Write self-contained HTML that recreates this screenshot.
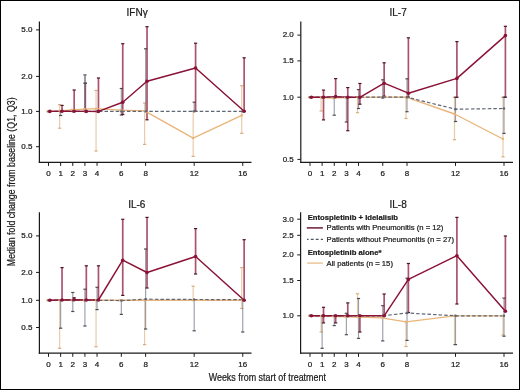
<!DOCTYPE html>
<html><head><meta charset="utf-8"><style>
html,body{margin:0;padding:0;background:#fff;}
body{width:520px;height:390px;overflow:hidden;}
svg{display:block;font-family:"Liberation Sans",sans-serif;fill:#1a1a1a;will-change:transform;}
text{fill:#1a1a1a;stroke:#1a1a1a;stroke-width:0.22px;}
</style></head><body>
<svg width="520" height="390" viewBox="0 0 520 390">
<rect x="0.5" y="0.5" width="519" height="389" fill="#fff" stroke="#000" stroke-width="1"/>
<line x1="39.40" y1="21.50" x2="39.40" y2="162.90" stroke="#1a1a1a" stroke-width="1.2" />
<line x1="38.80" y1="162.30" x2="251.50" y2="162.30" stroke="#1a1a1a" stroke-width="1.2" />
<line x1="36.00" y1="29.90" x2="39.40" y2="29.90" stroke="#1a1a1a" stroke-width="1" />
<text x="32.40" y="32.20" font-size="8" text-anchor="end" font-weight="normal" >5.0</text>
<line x1="36.00" y1="76.40" x2="39.40" y2="76.40" stroke="#1a1a1a" stroke-width="1" />
<text x="32.40" y="78.70" font-size="8" text-anchor="end" font-weight="normal" >2.0</text>
<line x1="36.00" y1="111.40" x2="39.40" y2="111.40" stroke="#1a1a1a" stroke-width="1" />
<text x="32.40" y="113.70" font-size="8" text-anchor="end" font-weight="normal" >1.0</text>
<line x1="36.00" y1="146.70" x2="39.40" y2="146.70" stroke="#1a1a1a" stroke-width="1" />
<text x="32.40" y="149.00" font-size="8" text-anchor="end" font-weight="normal" >0.5</text>
<line x1="48.50" y1="162.30" x2="48.50" y2="165.90" stroke="#1a1a1a" stroke-width="1" />
<text x="48.50" y="175.90" font-size="8" text-anchor="middle" font-weight="normal" >0</text>
<line x1="60.64" y1="162.30" x2="60.64" y2="165.90" stroke="#1a1a1a" stroke-width="1" />
<text x="60.64" y="175.90" font-size="8" text-anchor="middle" font-weight="normal" >1</text>
<line x1="72.78" y1="162.30" x2="72.78" y2="165.90" stroke="#1a1a1a" stroke-width="1" />
<text x="72.78" y="175.90" font-size="8" text-anchor="middle" font-weight="normal" >2</text>
<line x1="84.92" y1="162.30" x2="84.92" y2="165.90" stroke="#1a1a1a" stroke-width="1" />
<text x="84.92" y="175.90" font-size="8" text-anchor="middle" font-weight="normal" >3</text>
<line x1="97.06" y1="162.30" x2="97.06" y2="165.90" stroke="#1a1a1a" stroke-width="1" />
<text x="97.06" y="175.90" font-size="8" text-anchor="middle" font-weight="normal" >4</text>
<line x1="121.34" y1="162.30" x2="121.34" y2="165.90" stroke="#1a1a1a" stroke-width="1" />
<text x="121.34" y="175.90" font-size="8" text-anchor="middle" font-weight="normal" >6</text>
<line x1="145.62" y1="162.30" x2="145.62" y2="165.90" stroke="#1a1a1a" stroke-width="1" />
<text x="145.62" y="175.90" font-size="8" text-anchor="middle" font-weight="normal" >8</text>
<line x1="194.18" y1="162.30" x2="194.18" y2="165.90" stroke="#1a1a1a" stroke-width="1" />
<text x="194.18" y="175.90" font-size="8" text-anchor="middle" font-weight="normal" >12</text>
<line x1="242.74" y1="162.30" x2="242.74" y2="165.90" stroke="#1a1a1a" stroke-width="1" />
<text x="242.74" y="175.90" font-size="8" text-anchor="middle" font-weight="normal" >16</text>
<text x="137.10" y="15.60" font-size="10" text-anchor="middle" font-weight="normal" >IFNγ</text>
<g opacity="0.65">
<line x1="59.64" y1="104.60" x2="59.64" y2="128.20" stroke="#dcb07e" stroke-width="1.2" />
</g>
<line x1="58.04" y1="104.60" x2="61.24" y2="104.60" stroke="#d9ad7e" stroke-width="1.2" />
<line x1="58.04" y1="128.20" x2="61.24" y2="128.20" stroke="#d9ad7e" stroke-width="1.2" />
<g opacity="0.65">
<line x1="96.06" y1="90.50" x2="96.06" y2="151.00" stroke="#dcb07e" stroke-width="1.2" />
</g>
<line x1="94.46" y1="90.50" x2="97.66" y2="90.50" stroke="#d9ad7e" stroke-width="1.2" />
<line x1="94.46" y1="151.00" x2="97.66" y2="151.00" stroke="#d9ad7e" stroke-width="1.2" />
<g opacity="0.65">
<line x1="144.62" y1="103.00" x2="144.62" y2="144.40" stroke="#dcb07e" stroke-width="1.2" />
</g>
<line x1="143.02" y1="103.00" x2="146.22" y2="103.00" stroke="#d9ad7e" stroke-width="1.2" />
<line x1="143.02" y1="144.40" x2="146.22" y2="144.40" stroke="#d9ad7e" stroke-width="1.2" />
<g opacity="0.65">
<line x1="193.18" y1="111.20" x2="193.18" y2="156.40" stroke="#dcb07e" stroke-width="1.2" />
</g>
<line x1="191.58" y1="111.20" x2="194.78" y2="111.20" stroke="#d9ad7e" stroke-width="1.2" />
<line x1="191.58" y1="156.40" x2="194.78" y2="156.40" stroke="#d9ad7e" stroke-width="1.2" />
<g opacity="0.65">
<line x1="241.74" y1="85.80" x2="241.74" y2="133.30" stroke="#dcb07e" stroke-width="1.2" />
</g>
<line x1="240.14" y1="85.80" x2="243.34" y2="85.80" stroke="#d9ad7e" stroke-width="1.2" />
<line x1="240.14" y1="133.30" x2="243.34" y2="133.30" stroke="#d9ad7e" stroke-width="1.2" />
<g opacity="0.62">
<line x1="60.64" y1="111.40" x2="60.64" y2="115.50" stroke="#5e6575" stroke-width="1.15" />
</g>
<line x1="59.04" y1="111.40" x2="62.24" y2="111.40" stroke="#4a4e58" stroke-width="1.2" />
<line x1="59.04" y1="115.50" x2="62.24" y2="115.50" stroke="#4a4e58" stroke-width="1.2" />
<g opacity="0.62">
<line x1="84.92" y1="74.90" x2="84.92" y2="111.40" stroke="#5e6575" stroke-width="1.15" />
</g>
<line x1="83.32" y1="74.90" x2="86.52" y2="74.90" stroke="#4a4e58" stroke-width="1.2" />
<line x1="83.32" y1="111.40" x2="86.52" y2="111.40" stroke="#4a4e58" stroke-width="1.2" />
<g opacity="0.62">
<line x1="121.34" y1="88.50" x2="121.34" y2="115.00" stroke="#5e6575" stroke-width="1.15" />
</g>
<line x1="119.74" y1="88.50" x2="122.94" y2="88.50" stroke="#4a4e58" stroke-width="1.2" />
<line x1="119.74" y1="115.00" x2="122.94" y2="115.00" stroke="#4a4e58" stroke-width="1.2" />
<g opacity="0.62">
<line x1="145.62" y1="48.80" x2="145.62" y2="111.40" stroke="#5e6575" stroke-width="1.15" />
</g>
<line x1="144.02" y1="48.80" x2="147.22" y2="48.80" stroke="#4a4e58" stroke-width="1.2" />
<line x1="144.02" y1="111.40" x2="147.22" y2="111.40" stroke="#4a4e58" stroke-width="1.2" />
<g opacity="0.62">
<line x1="194.18" y1="102.20" x2="194.18" y2="111.40" stroke="#5e6575" stroke-width="1.15" />
</g>
<line x1="192.58" y1="102.20" x2="195.78" y2="102.20" stroke="#4a4e58" stroke-width="1.2" />
<line x1="192.58" y1="111.40" x2="195.78" y2="111.40" stroke="#4a4e58" stroke-width="1.2" />
<g opacity="0.72">
<line x1="62.04" y1="105.40" x2="62.04" y2="111.30" stroke="#8a1236" stroke-width="1.7" />
</g>
<line x1="60.44" y1="105.40" x2="63.64" y2="105.40" stroke="#4a1426" stroke-width="1.2" />
<line x1="60.44" y1="111.30" x2="63.64" y2="111.30" stroke="#4a1426" stroke-width="1.2" />
<g opacity="0.72">
<line x1="74.18" y1="90.00" x2="74.18" y2="111.30" stroke="#8a1236" stroke-width="1.7" />
</g>
<line x1="72.58" y1="90.00" x2="75.78" y2="90.00" stroke="#4a1426" stroke-width="1.2" />
<line x1="72.58" y1="111.30" x2="75.78" y2="111.30" stroke="#4a1426" stroke-width="1.2" />
<g opacity="0.72">
<line x1="85.32" y1="83.20" x2="85.32" y2="111.40" stroke="#8a1236" stroke-width="1.7" />
</g>
<line x1="83.72" y1="83.20" x2="86.92" y2="83.20" stroke="#4a1426" stroke-width="1.2" />
<line x1="83.72" y1="111.40" x2="86.92" y2="111.40" stroke="#4a1426" stroke-width="1.2" />
<g opacity="0.72">
<line x1="98.46" y1="78.00" x2="98.46" y2="111.40" stroke="#8a1236" stroke-width="1.7" />
</g>
<line x1="96.86" y1="78.00" x2="100.06" y2="78.00" stroke="#4a1426" stroke-width="1.2" />
<line x1="96.86" y1="111.40" x2="100.06" y2="111.40" stroke="#4a1426" stroke-width="1.2" />
<g opacity="0.72">
<line x1="122.74" y1="43.70" x2="122.74" y2="114.50" stroke="#8a1236" stroke-width="1.7" />
</g>
<line x1="121.14" y1="43.70" x2="124.34" y2="43.70" stroke="#4a1426" stroke-width="1.2" />
<line x1="121.14" y1="114.50" x2="124.34" y2="114.50" stroke="#4a1426" stroke-width="1.2" />
<g opacity="0.72">
<line x1="147.02" y1="26.70" x2="147.02" y2="119.80" stroke="#8a1236" stroke-width="1.7" />
</g>
<line x1="145.42" y1="26.70" x2="148.62" y2="26.70" stroke="#4a1426" stroke-width="1.2" />
<line x1="145.42" y1="119.80" x2="148.62" y2="119.80" stroke="#4a1426" stroke-width="1.2" />
<g opacity="0.72">
<line x1="195.58" y1="43.20" x2="195.58" y2="111.40" stroke="#8a1236" stroke-width="1.7" />
</g>
<line x1="193.98" y1="43.20" x2="197.18" y2="43.20" stroke="#4a1426" stroke-width="1.2" />
<line x1="193.98" y1="111.40" x2="197.18" y2="111.40" stroke="#4a1426" stroke-width="1.2" />
<g opacity="0.72">
<line x1="244.14" y1="57.80" x2="244.14" y2="111.30" stroke="#8a1236" stroke-width="1.7" />
</g>
<line x1="242.54" y1="57.80" x2="245.74" y2="57.80" stroke="#4a1426" stroke-width="1.2" />
<line x1="242.54" y1="111.30" x2="245.74" y2="111.30" stroke="#4a1426" stroke-width="1.2" />
<line x1="85.1" y1="75.5" x2="85.1" y2="111" stroke="#6b6f7c" stroke-width="1.3" opacity="0.75"/>
<line x1="83.5" y1="83.2" x2="86.7" y2="83.2" stroke="#4a4e58" stroke-width="1.2"/>
<polyline points="47.50,111.40 59.64,110.80 71.78,109.80 83.92,109.20 96.06,108.60 120.34,110.20 144.62,110.90 193.18,138.10 241.74,115.30" fill="none" stroke="#eab57a" stroke-width="1.35" stroke-linejoin="round" />
<polyline points="48.50,111.40 60.64,111.40 72.78,111.40 84.92,111.40 97.06,111.40 121.34,111.40 145.62,111.40 194.18,111.40 242.74,111.40" fill="none" stroke="#5e6575" stroke-width="1.2" stroke-linejoin="round" stroke-dasharray="3.5,2.1"/>
<polyline points="49.90,111.40 62.04,111.30 74.18,111.30 86.32,111.40 98.46,111.40 122.74,102.30 147.02,81.20 195.58,68.00 244.14,111.30" fill="none" stroke="#8a1236" stroke-width="1.45" stroke-linejoin="round" />
<circle cx="47.50" cy="111.40" r="1.2" fill="#eab57a"/>
<circle cx="59.64" cy="110.80" r="1.2" fill="#eab57a"/>
<circle cx="71.78" cy="109.80" r="1.2" fill="#eab57a"/>
<circle cx="83.92" cy="109.20" r="1.2" fill="#eab57a"/>
<circle cx="96.06" cy="108.60" r="1.2" fill="#eab57a"/>
<circle cx="120.34" cy="110.20" r="1.2" fill="#eab57a"/>
<circle cx="144.62" cy="110.90" r="1.2" fill="#eab57a"/>
<circle cx="193.18" cy="138.10" r="1.2" fill="#eab57a"/>
<circle cx="241.74" cy="115.30" r="1.2" fill="#eab57a"/>
<circle cx="48.50" cy="111.40" r="1.2" fill="#5e6575"/>
<circle cx="60.64" cy="111.40" r="1.2" fill="#5e6575"/>
<circle cx="72.78" cy="111.40" r="1.2" fill="#5e6575"/>
<circle cx="84.92" cy="111.40" r="1.2" fill="#5e6575"/>
<circle cx="97.06" cy="111.40" r="1.2" fill="#5e6575"/>
<circle cx="121.34" cy="111.40" r="1.2" fill="#5e6575"/>
<circle cx="145.62" cy="111.40" r="1.2" fill="#5e6575"/>
<circle cx="194.18" cy="111.40" r="1.2" fill="#5e6575"/>
<circle cx="242.74" cy="111.40" r="1.2" fill="#5e6575"/>
<circle cx="49.90" cy="111.40" r="1.8" fill="#8a1236"/>
<circle cx="62.04" cy="111.30" r="1.8" fill="#8a1236"/>
<circle cx="74.18" cy="111.30" r="1.8" fill="#8a1236"/>
<circle cx="86.32" cy="111.40" r="1.8" fill="#8a1236"/>
<circle cx="98.46" cy="111.40" r="1.8" fill="#8a1236"/>
<circle cx="122.74" cy="102.30" r="1.8" fill="#8a1236"/>
<circle cx="147.02" cy="81.20" r="1.8" fill="#8a1236"/>
<circle cx="195.58" cy="68.00" r="1.8" fill="#8a1236"/>
<circle cx="244.14" cy="111.30" r="1.8" fill="#8a1236"/>
<line x1="300.80" y1="21.50" x2="300.80" y2="162.90" stroke="#1a1a1a" stroke-width="1.2" />
<line x1="300.20" y1="162.30" x2="513.00" y2="162.30" stroke="#1a1a1a" stroke-width="1.2" />
<line x1="297.40" y1="35.10" x2="300.80" y2="35.10" stroke="#1a1a1a" stroke-width="1" />
<text x="293.80" y="37.40" font-size="8" text-anchor="end" font-weight="normal" >2.0</text>
<line x1="297.40" y1="60.90" x2="300.80" y2="60.90" stroke="#1a1a1a" stroke-width="1" />
<text x="293.80" y="63.20" font-size="8" text-anchor="end" font-weight="normal" >1.5</text>
<line x1="297.40" y1="97.20" x2="300.80" y2="97.20" stroke="#1a1a1a" stroke-width="1" />
<text x="293.80" y="99.50" font-size="8" text-anchor="end" font-weight="normal" >1.0</text>
<line x1="297.40" y1="159.40" x2="300.80" y2="159.40" stroke="#1a1a1a" stroke-width="1" />
<text x="293.80" y="161.70" font-size="8" text-anchor="end" font-weight="normal" >0.5</text>
<line x1="310.00" y1="162.30" x2="310.00" y2="165.90" stroke="#1a1a1a" stroke-width="1" />
<text x="310.00" y="175.90" font-size="8" text-anchor="middle" font-weight="normal" >0</text>
<line x1="322.12" y1="162.30" x2="322.12" y2="165.90" stroke="#1a1a1a" stroke-width="1" />
<text x="322.12" y="175.90" font-size="8" text-anchor="middle" font-weight="normal" >1</text>
<line x1="334.25" y1="162.30" x2="334.25" y2="165.90" stroke="#1a1a1a" stroke-width="1" />
<text x="334.25" y="175.90" font-size="8" text-anchor="middle" font-weight="normal" >2</text>
<line x1="346.38" y1="162.30" x2="346.38" y2="165.90" stroke="#1a1a1a" stroke-width="1" />
<text x="346.38" y="175.90" font-size="8" text-anchor="middle" font-weight="normal" >3</text>
<line x1="358.50" y1="162.30" x2="358.50" y2="165.90" stroke="#1a1a1a" stroke-width="1" />
<text x="358.50" y="175.90" font-size="8" text-anchor="middle" font-weight="normal" >4</text>
<line x1="382.75" y1="162.30" x2="382.75" y2="165.90" stroke="#1a1a1a" stroke-width="1" />
<text x="382.75" y="175.90" font-size="8" text-anchor="middle" font-weight="normal" >6</text>
<line x1="407.00" y1="162.30" x2="407.00" y2="165.90" stroke="#1a1a1a" stroke-width="1" />
<text x="407.00" y="175.90" font-size="8" text-anchor="middle" font-weight="normal" >8</text>
<line x1="455.50" y1="162.30" x2="455.50" y2="165.90" stroke="#1a1a1a" stroke-width="1" />
<text x="455.50" y="175.90" font-size="8" text-anchor="middle" font-weight="normal" >12</text>
<line x1="504.00" y1="162.30" x2="504.00" y2="165.90" stroke="#1a1a1a" stroke-width="1" />
<text x="504.00" y="175.90" font-size="8" text-anchor="middle" font-weight="normal" >16</text>
<text x="398.10" y="15.60" font-size="10" text-anchor="middle" font-weight="normal" >IL-7</text>
<g opacity="0.65">
<line x1="321.12" y1="97.20" x2="321.12" y2="111.00" stroke="#dcb07e" stroke-width="1.2" />
</g>
<line x1="319.52" y1="97.20" x2="322.73" y2="97.20" stroke="#d9ad7e" stroke-width="1.2" />
<line x1="319.52" y1="111.00" x2="322.73" y2="111.00" stroke="#d9ad7e" stroke-width="1.2" />
<g opacity="0.65">
<line x1="357.50" y1="97.20" x2="357.50" y2="112.70" stroke="#dcb07e" stroke-width="1.2" />
</g>
<line x1="355.90" y1="97.20" x2="359.10" y2="97.20" stroke="#d9ad7e" stroke-width="1.2" />
<line x1="355.90" y1="112.70" x2="359.10" y2="112.70" stroke="#d9ad7e" stroke-width="1.2" />
<g opacity="0.65">
<line x1="406.00" y1="97.20" x2="406.00" y2="118.50" stroke="#dcb07e" stroke-width="1.2" />
</g>
<line x1="404.40" y1="97.20" x2="407.60" y2="97.20" stroke="#d9ad7e" stroke-width="1.2" />
<line x1="404.40" y1="118.50" x2="407.60" y2="118.50" stroke="#d9ad7e" stroke-width="1.2" />
<g opacity="0.65">
<line x1="454.50" y1="97.20" x2="454.50" y2="139.70" stroke="#dcb07e" stroke-width="1.2" />
</g>
<line x1="452.90" y1="97.20" x2="456.10" y2="97.20" stroke="#d9ad7e" stroke-width="1.2" />
<line x1="452.90" y1="139.70" x2="456.10" y2="139.70" stroke="#d9ad7e" stroke-width="1.2" />
<g opacity="0.65">
<line x1="503.00" y1="97.20" x2="503.00" y2="156.80" stroke="#dcb07e" stroke-width="1.2" />
</g>
<line x1="501.40" y1="97.20" x2="504.60" y2="97.20" stroke="#d9ad7e" stroke-width="1.2" />
<line x1="501.40" y1="156.80" x2="504.60" y2="156.80" stroke="#d9ad7e" stroke-width="1.2" />
<g opacity="0.62">
<line x1="334.25" y1="97.20" x2="334.25" y2="115.20" stroke="#5e6575" stroke-width="1.15" />
</g>
<line x1="332.65" y1="97.20" x2="335.85" y2="97.20" stroke="#4a4e58" stroke-width="1.2" />
<line x1="332.65" y1="115.20" x2="335.85" y2="115.20" stroke="#4a4e58" stroke-width="1.2" />
<g opacity="0.62">
<line x1="346.38" y1="97.20" x2="346.38" y2="122.00" stroke="#5e6575" stroke-width="1.15" />
</g>
<line x1="344.77" y1="97.20" x2="347.98" y2="97.20" stroke="#4a4e58" stroke-width="1.2" />
<line x1="344.77" y1="122.00" x2="347.98" y2="122.00" stroke="#4a4e58" stroke-width="1.2" />
<g opacity="0.62">
<line x1="358.50" y1="89.60" x2="358.50" y2="108.50" stroke="#5e6575" stroke-width="1.15" />
</g>
<line x1="356.90" y1="89.60" x2="360.10" y2="89.60" stroke="#4a4e58" stroke-width="1.2" />
<line x1="356.90" y1="108.50" x2="360.10" y2="108.50" stroke="#4a4e58" stroke-width="1.2" />
<g opacity="0.62">
<line x1="382.75" y1="79.80" x2="382.75" y2="98.00" stroke="#5e6575" stroke-width="1.15" />
</g>
<line x1="381.15" y1="79.80" x2="384.35" y2="79.80" stroke="#4a4e58" stroke-width="1.2" />
<line x1="381.15" y1="98.00" x2="384.35" y2="98.00" stroke="#4a4e58" stroke-width="1.2" />
<g opacity="0.62">
<line x1="407.00" y1="78.80" x2="407.00" y2="111.70" stroke="#5e6575" stroke-width="1.15" />
</g>
<line x1="405.40" y1="78.80" x2="408.60" y2="78.80" stroke="#4a4e58" stroke-width="1.2" />
<line x1="405.40" y1="111.70" x2="408.60" y2="111.70" stroke="#4a4e58" stroke-width="1.2" />
<g opacity="0.62">
<line x1="455.50" y1="97.30" x2="455.50" y2="121.50" stroke="#5e6575" stroke-width="1.15" />
</g>
<line x1="453.90" y1="97.30" x2="457.10" y2="97.30" stroke="#4a4e58" stroke-width="1.2" />
<line x1="453.90" y1="121.50" x2="457.10" y2="121.50" stroke="#4a4e58" stroke-width="1.2" />
<g opacity="0.62">
<line x1="504.00" y1="97.20" x2="504.00" y2="133.40" stroke="#5e6575" stroke-width="1.15" />
</g>
<line x1="502.40" y1="97.20" x2="505.60" y2="97.20" stroke="#4a4e58" stroke-width="1.2" />
<line x1="502.40" y1="133.40" x2="505.60" y2="133.40" stroke="#4a4e58" stroke-width="1.2" />
<g opacity="0.72">
<line x1="323.52" y1="90.10" x2="323.52" y2="119.90" stroke="#8a1236" stroke-width="1.7" />
</g>
<line x1="321.92" y1="90.10" x2="325.12" y2="90.10" stroke="#4a1426" stroke-width="1.2" />
<line x1="321.92" y1="119.90" x2="325.12" y2="119.90" stroke="#4a1426" stroke-width="1.2" />
<g opacity="0.72">
<line x1="335.65" y1="78.60" x2="335.65" y2="97.00" stroke="#8a1236" stroke-width="1.7" />
</g>
<line x1="334.05" y1="78.60" x2="337.25" y2="78.60" stroke="#4a1426" stroke-width="1.2" />
<line x1="334.05" y1="97.00" x2="337.25" y2="97.00" stroke="#4a1426" stroke-width="1.2" />
<g opacity="0.72">
<line x1="347.77" y1="87.60" x2="347.77" y2="130.70" stroke="#8a1236" stroke-width="1.7" />
</g>
<line x1="346.17" y1="87.60" x2="349.38" y2="87.60" stroke="#4a1426" stroke-width="1.2" />
<line x1="346.17" y1="130.70" x2="349.38" y2="130.70" stroke="#4a1426" stroke-width="1.2" />
<g opacity="0.72">
<line x1="359.90" y1="83.50" x2="359.90" y2="104.20" stroke="#8a1236" stroke-width="1.7" />
</g>
<line x1="358.30" y1="83.50" x2="361.50" y2="83.50" stroke="#4a1426" stroke-width="1.2" />
<line x1="358.30" y1="104.20" x2="361.50" y2="104.20" stroke="#4a1426" stroke-width="1.2" />
<g opacity="0.72">
<line x1="384.15" y1="62.80" x2="384.15" y2="96.20" stroke="#8a1236" stroke-width="1.7" />
</g>
<line x1="382.55" y1="62.80" x2="385.75" y2="62.80" stroke="#4a1426" stroke-width="1.2" />
<line x1="382.55" y1="96.20" x2="385.75" y2="96.20" stroke="#4a1426" stroke-width="1.2" />
<g opacity="0.72">
<line x1="408.40" y1="37.80" x2="408.40" y2="97.20" stroke="#8a1236" stroke-width="1.7" />
</g>
<line x1="406.80" y1="37.80" x2="410.00" y2="37.80" stroke="#4a1426" stroke-width="1.2" />
<line x1="406.80" y1="97.20" x2="410.00" y2="97.20" stroke="#4a1426" stroke-width="1.2" />
<g opacity="0.72">
<line x1="456.90" y1="41.60" x2="456.90" y2="97.30" stroke="#8a1236" stroke-width="1.7" />
</g>
<line x1="455.30" y1="41.60" x2="458.50" y2="41.60" stroke="#4a1426" stroke-width="1.2" />
<line x1="455.30" y1="97.30" x2="458.50" y2="97.30" stroke="#4a1426" stroke-width="1.2" />
<g opacity="0.72">
<line x1="505.40" y1="26.30" x2="505.40" y2="97.20" stroke="#8a1236" stroke-width="1.7" />
</g>
<line x1="503.80" y1="26.30" x2="507.00" y2="26.30" stroke="#4a1426" stroke-width="1.2" />
<line x1="503.80" y1="97.20" x2="507.00" y2="97.20" stroke="#4a1426" stroke-width="1.2" />
<polyline points="309.00,97.20 321.12,97.50 333.25,98.20 345.38,97.60 357.50,97.40 381.75,97.20 406.00,97.20 454.50,114.00 503.00,139.00" fill="none" stroke="#eab57a" stroke-width="1.35" stroke-linejoin="round" />
<polyline points="310.00,97.20 322.12,97.20 334.25,97.20 346.38,97.20 358.50,97.20 382.75,97.20 407.00,97.20 455.50,109.20 504.00,108.50" fill="none" stroke="#5e6575" stroke-width="1.2" stroke-linejoin="round" stroke-dasharray="3.5,2.1"/>
<polyline points="311.40,97.20 323.52,97.30 335.65,96.60 347.77,97.30 359.90,97.30 384.15,83.20 408.40,93.20 456.90,78.40 505.40,35.60" fill="none" stroke="#8a1236" stroke-width="1.45" stroke-linejoin="round" />
<circle cx="309.00" cy="97.20" r="1.2" fill="#eab57a"/>
<circle cx="321.12" cy="97.50" r="1.2" fill="#eab57a"/>
<circle cx="333.25" cy="98.20" r="1.2" fill="#eab57a"/>
<circle cx="345.38" cy="97.60" r="1.2" fill="#eab57a"/>
<circle cx="357.50" cy="97.40" r="1.2" fill="#eab57a"/>
<circle cx="381.75" cy="97.20" r="1.2" fill="#eab57a"/>
<circle cx="406.00" cy="97.20" r="1.2" fill="#eab57a"/>
<circle cx="454.50" cy="114.00" r="1.2" fill="#eab57a"/>
<circle cx="503.00" cy="139.00" r="1.2" fill="#eab57a"/>
<circle cx="310.00" cy="97.20" r="1.2" fill="#5e6575"/>
<circle cx="322.12" cy="97.20" r="1.2" fill="#5e6575"/>
<circle cx="334.25" cy="97.20" r="1.2" fill="#5e6575"/>
<circle cx="346.38" cy="97.20" r="1.2" fill="#5e6575"/>
<circle cx="358.50" cy="97.20" r="1.2" fill="#5e6575"/>
<circle cx="382.75" cy="97.20" r="1.2" fill="#5e6575"/>
<circle cx="407.00" cy="97.20" r="1.2" fill="#5e6575"/>
<circle cx="455.50" cy="109.20" r="1.2" fill="#5e6575"/>
<circle cx="504.00" cy="108.50" r="1.2" fill="#5e6575"/>
<circle cx="311.40" cy="97.20" r="1.8" fill="#8a1236"/>
<circle cx="323.52" cy="97.30" r="1.8" fill="#8a1236"/>
<circle cx="335.65" cy="96.60" r="1.8" fill="#8a1236"/>
<circle cx="347.77" cy="97.30" r="1.8" fill="#8a1236"/>
<circle cx="359.90" cy="97.30" r="1.8" fill="#8a1236"/>
<circle cx="384.15" cy="83.20" r="1.8" fill="#8a1236"/>
<circle cx="408.40" cy="93.20" r="1.8" fill="#8a1236"/>
<circle cx="456.90" cy="78.40" r="1.8" fill="#8a1236"/>
<circle cx="505.40" cy="35.60" r="1.8" fill="#8a1236"/>
<line x1="39.40" y1="212.30" x2="39.40" y2="353.80" stroke="#1a1a1a" stroke-width="1.2" />
<line x1="38.80" y1="353.20" x2="251.50" y2="353.20" stroke="#1a1a1a" stroke-width="1.2" />
<line x1="36.00" y1="235.90" x2="39.40" y2="235.90" stroke="#1a1a1a" stroke-width="1" />
<text x="32.40" y="238.20" font-size="8" text-anchor="end" font-weight="normal" >5.0</text>
<line x1="36.00" y1="272.40" x2="39.40" y2="272.40" stroke="#1a1a1a" stroke-width="1" />
<text x="32.40" y="274.70" font-size="8" text-anchor="end" font-weight="normal" >2.0</text>
<line x1="36.00" y1="300.30" x2="39.40" y2="300.30" stroke="#1a1a1a" stroke-width="1" />
<text x="32.40" y="302.60" font-size="8" text-anchor="end" font-weight="normal" >1.0</text>
<line x1="36.00" y1="327.50" x2="39.40" y2="327.50" stroke="#1a1a1a" stroke-width="1" />
<text x="32.40" y="329.80" font-size="8" text-anchor="end" font-weight="normal" >0.5</text>
<line x1="48.50" y1="353.20" x2="48.50" y2="356.80" stroke="#1a1a1a" stroke-width="1" />
<text x="48.50" y="366.80" font-size="8" text-anchor="middle" font-weight="normal" >0</text>
<line x1="60.64" y1="353.20" x2="60.64" y2="356.80" stroke="#1a1a1a" stroke-width="1" />
<text x="60.64" y="366.80" font-size="8" text-anchor="middle" font-weight="normal" >1</text>
<line x1="72.78" y1="353.20" x2="72.78" y2="356.80" stroke="#1a1a1a" stroke-width="1" />
<text x="72.78" y="366.80" font-size="8" text-anchor="middle" font-weight="normal" >2</text>
<line x1="84.92" y1="353.20" x2="84.92" y2="356.80" stroke="#1a1a1a" stroke-width="1" />
<text x="84.92" y="366.80" font-size="8" text-anchor="middle" font-weight="normal" >3</text>
<line x1="97.06" y1="353.20" x2="97.06" y2="356.80" stroke="#1a1a1a" stroke-width="1" />
<text x="97.06" y="366.80" font-size="8" text-anchor="middle" font-weight="normal" >4</text>
<line x1="121.34" y1="353.20" x2="121.34" y2="356.80" stroke="#1a1a1a" stroke-width="1" />
<text x="121.34" y="366.80" font-size="8" text-anchor="middle" font-weight="normal" >6</text>
<line x1="145.62" y1="353.20" x2="145.62" y2="356.80" stroke="#1a1a1a" stroke-width="1" />
<text x="145.62" y="366.80" font-size="8" text-anchor="middle" font-weight="normal" >8</text>
<line x1="194.18" y1="353.20" x2="194.18" y2="356.80" stroke="#1a1a1a" stroke-width="1" />
<text x="194.18" y="366.80" font-size="8" text-anchor="middle" font-weight="normal" >12</text>
<line x1="242.74" y1="353.20" x2="242.74" y2="356.80" stroke="#1a1a1a" stroke-width="1" />
<text x="242.74" y="366.80" font-size="8" text-anchor="middle" font-weight="normal" >16</text>
<text x="136.80" y="207.70" font-size="10" text-anchor="middle" font-weight="normal" >IL-6</text>
<g opacity="0.65">
<line x1="59.64" y1="300.20" x2="59.64" y2="348.30" stroke="#dcb07e" stroke-width="1.2" />
</g>
<line x1="58.04" y1="300.20" x2="61.24" y2="300.20" stroke="#d9ad7e" stroke-width="1.2" />
<line x1="58.04" y1="348.30" x2="61.24" y2="348.30" stroke="#d9ad7e" stroke-width="1.2" />
<g opacity="0.65">
<line x1="96.06" y1="300.20" x2="96.06" y2="346.80" stroke="#dcb07e" stroke-width="1.2" />
</g>
<line x1="94.46" y1="300.20" x2="97.66" y2="300.20" stroke="#d9ad7e" stroke-width="1.2" />
<line x1="94.46" y1="346.80" x2="97.66" y2="346.80" stroke="#d9ad7e" stroke-width="1.2" />
<g opacity="0.65">
<line x1="144.62" y1="300.20" x2="144.62" y2="344.60" stroke="#dcb07e" stroke-width="1.2" />
</g>
<line x1="143.02" y1="300.20" x2="146.22" y2="300.20" stroke="#d9ad7e" stroke-width="1.2" />
<line x1="143.02" y1="344.60" x2="146.22" y2="344.60" stroke="#d9ad7e" stroke-width="1.2" />
<g opacity="0.65">
<line x1="193.18" y1="286.20" x2="193.18" y2="300.20" stroke="#dcb07e" stroke-width="1.2" />
</g>
<line x1="191.58" y1="286.20" x2="194.78" y2="286.20" stroke="#d9ad7e" stroke-width="1.2" />
<line x1="191.58" y1="300.20" x2="194.78" y2="300.20" stroke="#d9ad7e" stroke-width="1.2" />
<g opacity="0.65">
<line x1="241.74" y1="267.60" x2="241.74" y2="308.50" stroke="#dcb07e" stroke-width="1.2" />
</g>
<line x1="240.14" y1="267.60" x2="243.34" y2="267.60" stroke="#d9ad7e" stroke-width="1.2" />
<line x1="240.14" y1="308.50" x2="243.34" y2="308.50" stroke="#d9ad7e" stroke-width="1.2" />
<g opacity="0.62">
<line x1="60.64" y1="300.20" x2="60.64" y2="328.20" stroke="#5e6575" stroke-width="1.15" />
</g>
<line x1="59.04" y1="300.20" x2="62.24" y2="300.20" stroke="#4a4e58" stroke-width="1.2" />
<line x1="59.04" y1="328.20" x2="62.24" y2="328.20" stroke="#4a4e58" stroke-width="1.2" />
<g opacity="0.62">
<line x1="72.78" y1="292.50" x2="72.78" y2="311.50" stroke="#5e6575" stroke-width="1.15" />
</g>
<line x1="71.18" y1="292.50" x2="74.38" y2="292.50" stroke="#4a4e58" stroke-width="1.2" />
<line x1="71.18" y1="311.50" x2="74.38" y2="311.50" stroke="#4a4e58" stroke-width="1.2" />
<g opacity="0.62">
<line x1="84.92" y1="289.20" x2="84.92" y2="326.00" stroke="#5e6575" stroke-width="1.15" />
</g>
<line x1="83.32" y1="289.20" x2="86.52" y2="289.20" stroke="#4a4e58" stroke-width="1.2" />
<line x1="83.32" y1="326.00" x2="86.52" y2="326.00" stroke="#4a4e58" stroke-width="1.2" />
<g opacity="0.62">
<line x1="97.06" y1="287.30" x2="97.06" y2="309.60" stroke="#5e6575" stroke-width="1.15" />
</g>
<line x1="95.46" y1="287.30" x2="98.66" y2="287.30" stroke="#4a4e58" stroke-width="1.2" />
<line x1="95.46" y1="309.60" x2="98.66" y2="309.60" stroke="#4a4e58" stroke-width="1.2" />
<g opacity="0.62">
<line x1="121.34" y1="300.30" x2="121.34" y2="314.40" stroke="#5e6575" stroke-width="1.15" />
</g>
<line x1="119.74" y1="300.30" x2="122.94" y2="300.30" stroke="#4a4e58" stroke-width="1.2" />
<line x1="119.74" y1="314.40" x2="122.94" y2="314.40" stroke="#4a4e58" stroke-width="1.2" />
<g opacity="0.62">
<line x1="145.62" y1="249.00" x2="145.62" y2="329.00" stroke="#5e6575" stroke-width="1.15" />
</g>
<line x1="144.02" y1="249.00" x2="147.22" y2="249.00" stroke="#4a4e58" stroke-width="1.2" />
<line x1="144.02" y1="329.00" x2="147.22" y2="329.00" stroke="#4a4e58" stroke-width="1.2" />
<g opacity="0.62">
<line x1="194.18" y1="300.00" x2="194.18" y2="330.80" stroke="#5e6575" stroke-width="1.15" />
</g>
<line x1="192.58" y1="300.00" x2="195.78" y2="300.00" stroke="#4a4e58" stroke-width="1.2" />
<line x1="192.58" y1="330.80" x2="195.78" y2="330.80" stroke="#4a4e58" stroke-width="1.2" />
<g opacity="0.62">
<line x1="242.74" y1="299.60" x2="242.74" y2="332.00" stroke="#5e6575" stroke-width="1.15" />
</g>
<line x1="241.14" y1="299.60" x2="244.34" y2="299.60" stroke="#4a4e58" stroke-width="1.2" />
<line x1="241.14" y1="332.00" x2="244.34" y2="332.00" stroke="#4a4e58" stroke-width="1.2" />
<g opacity="0.72">
<line x1="62.04" y1="267.60" x2="62.04" y2="300.00" stroke="#8a1236" stroke-width="1.7" />
</g>
<line x1="60.44" y1="267.60" x2="63.64" y2="267.60" stroke="#4a1426" stroke-width="1.2" />
<line x1="60.44" y1="300.00" x2="63.64" y2="300.00" stroke="#4a1426" stroke-width="1.2" />
<g opacity="0.72">
<line x1="74.18" y1="297.80" x2="74.18" y2="300.00" stroke="#8a1236" stroke-width="1.7" />
</g>
<line x1="72.58" y1="297.80" x2="75.78" y2="297.80" stroke="#4a1426" stroke-width="1.2" />
<line x1="72.58" y1="300.00" x2="75.78" y2="300.00" stroke="#4a1426" stroke-width="1.2" />
<g opacity="0.72">
<line x1="86.32" y1="265.80" x2="86.32" y2="300.00" stroke="#8a1236" stroke-width="1.7" />
</g>
<line x1="84.72" y1="265.80" x2="87.92" y2="265.80" stroke="#4a1426" stroke-width="1.2" />
<line x1="84.72" y1="300.00" x2="87.92" y2="300.00" stroke="#4a1426" stroke-width="1.2" />
<g opacity="0.72">
<line x1="98.46" y1="265.80" x2="98.46" y2="300.00" stroke="#8a1236" stroke-width="1.7" />
</g>
<line x1="96.86" y1="265.80" x2="100.06" y2="265.80" stroke="#4a1426" stroke-width="1.2" />
<line x1="96.86" y1="300.00" x2="100.06" y2="300.00" stroke="#4a1426" stroke-width="1.2" />
<g opacity="0.72">
<line x1="122.74" y1="219.30" x2="122.74" y2="295.40" stroke="#8a1236" stroke-width="1.7" />
</g>
<line x1="121.14" y1="219.30" x2="124.34" y2="219.30" stroke="#4a1426" stroke-width="1.2" />
<line x1="121.14" y1="295.40" x2="124.34" y2="295.40" stroke="#4a1426" stroke-width="1.2" />
<g opacity="0.72">
<line x1="147.02" y1="217.40" x2="147.02" y2="288.00" stroke="#8a1236" stroke-width="1.7" />
</g>
<line x1="145.42" y1="217.40" x2="148.62" y2="217.40" stroke="#4a1426" stroke-width="1.2" />
<line x1="145.42" y1="288.00" x2="148.62" y2="288.00" stroke="#4a1426" stroke-width="1.2" />
<g opacity="0.72">
<line x1="195.58" y1="228.60" x2="195.58" y2="274.00" stroke="#8a1236" stroke-width="1.7" />
</g>
<line x1="193.98" y1="228.60" x2="197.18" y2="228.60" stroke="#4a1426" stroke-width="1.2" />
<line x1="193.98" y1="274.00" x2="197.18" y2="274.00" stroke="#4a1426" stroke-width="1.2" />
<g opacity="0.72">
<line x1="244.14" y1="239.70" x2="244.14" y2="300.30" stroke="#8a1236" stroke-width="1.7" />
</g>
<line x1="242.54" y1="239.70" x2="245.74" y2="239.70" stroke="#4a1426" stroke-width="1.2" />
<line x1="242.54" y1="300.30" x2="245.74" y2="300.30" stroke="#4a1426" stroke-width="1.2" />
<polyline points="47.50,300.20 59.64,300.20 71.78,300.20 83.92,300.20 96.06,300.20 120.34,300.20 144.62,300.20 193.18,300.20 241.74,300.20" fill="none" stroke="#eab57a" stroke-width="1.35" stroke-linejoin="round" />
<polyline points="48.50,300.20 60.64,300.20 72.78,300.20 84.92,300.20 97.06,300.20 121.34,300.60 145.62,299.20 194.18,299.50 242.74,299.60" fill="none" stroke="#5e6575" stroke-width="1.2" stroke-linejoin="round" stroke-dasharray="3.5,2.1"/>
<polyline points="49.90,300.20 62.04,300.00 74.18,299.80 86.32,300.00 98.46,300.00 122.74,260.20 147.02,272.50 195.58,256.50 244.14,300.30" fill="none" stroke="#8a1236" stroke-width="1.45" stroke-linejoin="round" />
<circle cx="47.50" cy="300.20" r="1.2" fill="#eab57a"/>
<circle cx="59.64" cy="300.20" r="1.2" fill="#eab57a"/>
<circle cx="71.78" cy="300.20" r="1.2" fill="#eab57a"/>
<circle cx="83.92" cy="300.20" r="1.2" fill="#eab57a"/>
<circle cx="96.06" cy="300.20" r="1.2" fill="#eab57a"/>
<circle cx="120.34" cy="300.20" r="1.2" fill="#eab57a"/>
<circle cx="144.62" cy="300.20" r="1.2" fill="#eab57a"/>
<circle cx="193.18" cy="300.20" r="1.2" fill="#eab57a"/>
<circle cx="241.74" cy="300.20" r="1.2" fill="#eab57a"/>
<circle cx="48.50" cy="300.20" r="1.2" fill="#5e6575"/>
<circle cx="60.64" cy="300.20" r="1.2" fill="#5e6575"/>
<circle cx="72.78" cy="300.20" r="1.2" fill="#5e6575"/>
<circle cx="84.92" cy="300.20" r="1.2" fill="#5e6575"/>
<circle cx="97.06" cy="300.20" r="1.2" fill="#5e6575"/>
<circle cx="121.34" cy="300.60" r="1.2" fill="#5e6575"/>
<circle cx="145.62" cy="299.20" r="1.2" fill="#5e6575"/>
<circle cx="194.18" cy="299.50" r="1.2" fill="#5e6575"/>
<circle cx="242.74" cy="299.60" r="1.2" fill="#5e6575"/>
<circle cx="49.90" cy="300.20" r="1.8" fill="#8a1236"/>
<circle cx="62.04" cy="300.00" r="1.8" fill="#8a1236"/>
<circle cx="74.18" cy="299.80" r="1.8" fill="#8a1236"/>
<circle cx="86.32" cy="300.00" r="1.8" fill="#8a1236"/>
<circle cx="98.46" cy="300.00" r="1.8" fill="#8a1236"/>
<circle cx="122.74" cy="260.20" r="1.8" fill="#8a1236"/>
<circle cx="147.02" cy="272.50" r="1.8" fill="#8a1236"/>
<circle cx="195.58" cy="256.50" r="1.8" fill="#8a1236"/>
<circle cx="244.14" cy="300.30" r="1.8" fill="#8a1236"/>
<line x1="300.60" y1="212.30" x2="300.60" y2="353.80" stroke="#1a1a1a" stroke-width="1.2" />
<line x1="300.00" y1="353.20" x2="513.00" y2="353.20" stroke="#1a1a1a" stroke-width="1.2" />
<line x1="297.20" y1="219.20" x2="300.60" y2="219.20" stroke="#1a1a1a" stroke-width="1" />
<text x="293.60" y="221.50" font-size="8" text-anchor="end" font-weight="normal" >3.0</text>
<line x1="297.20" y1="235.30" x2="300.60" y2="235.30" stroke="#1a1a1a" stroke-width="1" />
<text x="293.60" y="237.60" font-size="8" text-anchor="end" font-weight="normal" >2.5</text>
<line x1="297.20" y1="254.90" x2="300.60" y2="254.90" stroke="#1a1a1a" stroke-width="1" />
<text x="293.60" y="257.20" font-size="8" text-anchor="end" font-weight="normal" >2.0</text>
<line x1="297.20" y1="280.50" x2="300.60" y2="280.50" stroke="#1a1a1a" stroke-width="1" />
<text x="293.60" y="282.80" font-size="8" text-anchor="end" font-weight="normal" >1.5</text>
<line x1="297.20" y1="315.80" x2="300.60" y2="315.80" stroke="#1a1a1a" stroke-width="1" />
<text x="293.60" y="318.10" font-size="8" text-anchor="end" font-weight="normal" >1.0</text>
<line x1="310.00" y1="353.20" x2="310.00" y2="356.80" stroke="#1a1a1a" stroke-width="1" />
<text x="310.00" y="366.80" font-size="8" text-anchor="middle" font-weight="normal" >0</text>
<line x1="322.12" y1="353.20" x2="322.12" y2="356.80" stroke="#1a1a1a" stroke-width="1" />
<text x="322.12" y="366.80" font-size="8" text-anchor="middle" font-weight="normal" >1</text>
<line x1="334.25" y1="353.20" x2="334.25" y2="356.80" stroke="#1a1a1a" stroke-width="1" />
<text x="334.25" y="366.80" font-size="8" text-anchor="middle" font-weight="normal" >2</text>
<line x1="346.38" y1="353.20" x2="346.38" y2="356.80" stroke="#1a1a1a" stroke-width="1" />
<text x="346.38" y="366.80" font-size="8" text-anchor="middle" font-weight="normal" >3</text>
<line x1="358.50" y1="353.20" x2="358.50" y2="356.80" stroke="#1a1a1a" stroke-width="1" />
<text x="358.50" y="366.80" font-size="8" text-anchor="middle" font-weight="normal" >4</text>
<line x1="382.75" y1="353.20" x2="382.75" y2="356.80" stroke="#1a1a1a" stroke-width="1" />
<text x="382.75" y="366.80" font-size="8" text-anchor="middle" font-weight="normal" >6</text>
<line x1="407.00" y1="353.20" x2="407.00" y2="356.80" stroke="#1a1a1a" stroke-width="1" />
<text x="407.00" y="366.80" font-size="8" text-anchor="middle" font-weight="normal" >8</text>
<line x1="455.50" y1="353.20" x2="455.50" y2="356.80" stroke="#1a1a1a" stroke-width="1" />
<text x="455.50" y="366.80" font-size="8" text-anchor="middle" font-weight="normal" >12</text>
<line x1="504.00" y1="353.20" x2="504.00" y2="356.80" stroke="#1a1a1a" stroke-width="1" />
<text x="504.00" y="366.80" font-size="8" text-anchor="middle" font-weight="normal" >16</text>
<text x="398.10" y="207.50" font-size="10" text-anchor="middle" font-weight="normal" >IL-8</text>
<g opacity="0.65">
<line x1="321.12" y1="316.00" x2="321.12" y2="332.00" stroke="#dcb07e" stroke-width="1.2" />
</g>
<line x1="319.52" y1="316.00" x2="322.73" y2="316.00" stroke="#d9ad7e" stroke-width="1.2" />
<line x1="319.52" y1="332.00" x2="322.73" y2="332.00" stroke="#d9ad7e" stroke-width="1.2" />
<g opacity="0.65">
<line x1="357.50" y1="293.80" x2="357.50" y2="317.00" stroke="#dcb07e" stroke-width="1.2" />
</g>
<line x1="355.90" y1="293.80" x2="359.10" y2="293.80" stroke="#d9ad7e" stroke-width="1.2" />
<line x1="355.90" y1="317.00" x2="359.10" y2="317.00" stroke="#d9ad7e" stroke-width="1.2" />
<g opacity="0.65">
<line x1="406.00" y1="321.80" x2="406.00" y2="346.50" stroke="#dcb07e" stroke-width="1.2" />
</g>
<line x1="404.40" y1="321.80" x2="407.60" y2="321.80" stroke="#d9ad7e" stroke-width="1.2" />
<line x1="404.40" y1="346.50" x2="407.60" y2="346.50" stroke="#d9ad7e" stroke-width="1.2" />
<g opacity="0.65">
<line x1="454.50" y1="315.80" x2="454.50" y2="344.60" stroke="#dcb07e" stroke-width="1.2" />
</g>
<line x1="452.90" y1="315.80" x2="456.10" y2="315.80" stroke="#d9ad7e" stroke-width="1.2" />
<line x1="452.90" y1="344.60" x2="456.10" y2="344.60" stroke="#d9ad7e" stroke-width="1.2" />
<g opacity="0.65">
<line x1="503.00" y1="315.80" x2="503.00" y2="335.00" stroke="#dcb07e" stroke-width="1.2" />
</g>
<line x1="501.40" y1="315.80" x2="504.60" y2="315.80" stroke="#d9ad7e" stroke-width="1.2" />
<line x1="501.40" y1="335.00" x2="504.60" y2="335.00" stroke="#d9ad7e" stroke-width="1.2" />
<g opacity="0.62">
<line x1="322.12" y1="315.80" x2="322.12" y2="348.30" stroke="#5e6575" stroke-width="1.15" />
</g>
<line x1="320.52" y1="315.80" x2="323.73" y2="315.80" stroke="#4a4e58" stroke-width="1.2" />
<line x1="320.52" y1="348.30" x2="323.73" y2="348.30" stroke="#4a4e58" stroke-width="1.2" />
<g opacity="0.62">
<line x1="334.25" y1="315.80" x2="334.25" y2="325.60" stroke="#5e6575" stroke-width="1.15" />
</g>
<line x1="332.65" y1="315.80" x2="335.85" y2="315.80" stroke="#4a4e58" stroke-width="1.2" />
<line x1="332.65" y1="325.60" x2="335.85" y2="325.60" stroke="#4a4e58" stroke-width="1.2" />
<g opacity="0.62">
<line x1="346.38" y1="313.30" x2="346.38" y2="334.70" stroke="#5e6575" stroke-width="1.15" />
</g>
<line x1="344.77" y1="313.30" x2="347.98" y2="313.30" stroke="#4a4e58" stroke-width="1.2" />
<line x1="344.77" y1="334.70" x2="347.98" y2="334.70" stroke="#4a4e58" stroke-width="1.2" />
<g opacity="0.62">
<line x1="358.50" y1="298.50" x2="358.50" y2="338.40" stroke="#5e6575" stroke-width="1.15" />
</g>
<line x1="356.90" y1="298.50" x2="360.10" y2="298.50" stroke="#4a4e58" stroke-width="1.2" />
<line x1="356.90" y1="338.40" x2="360.10" y2="338.40" stroke="#4a4e58" stroke-width="1.2" />
<g opacity="0.62">
<line x1="382.75" y1="305.70" x2="382.75" y2="340.90" stroke="#5e6575" stroke-width="1.15" />
</g>
<line x1="381.15" y1="305.70" x2="384.35" y2="305.70" stroke="#4a4e58" stroke-width="1.2" />
<line x1="381.15" y1="340.90" x2="384.35" y2="340.90" stroke="#4a4e58" stroke-width="1.2" />
<g opacity="0.62">
<line x1="407.00" y1="278.20" x2="407.00" y2="340.40" stroke="#5e6575" stroke-width="1.15" />
</g>
<line x1="405.40" y1="278.20" x2="408.60" y2="278.20" stroke="#4a4e58" stroke-width="1.2" />
<line x1="405.40" y1="340.40" x2="408.60" y2="340.40" stroke="#4a4e58" stroke-width="1.2" />
<g opacity="0.62">
<line x1="455.50" y1="315.80" x2="455.50" y2="344.60" stroke="#5e6575" stroke-width="1.15" />
</g>
<line x1="453.90" y1="315.80" x2="457.10" y2="315.80" stroke="#4a4e58" stroke-width="1.2" />
<line x1="453.90" y1="344.60" x2="457.10" y2="344.60" stroke="#4a4e58" stroke-width="1.2" />
<g opacity="0.62">
<line x1="504.00" y1="298.10" x2="504.00" y2="336.20" stroke="#5e6575" stroke-width="1.15" />
</g>
<line x1="502.40" y1="298.10" x2="505.60" y2="298.10" stroke="#4a4e58" stroke-width="1.2" />
<line x1="502.40" y1="336.20" x2="505.60" y2="336.20" stroke="#4a4e58" stroke-width="1.2" />
<g opacity="0.72">
<line x1="323.52" y1="307.30" x2="323.52" y2="322.90" stroke="#8a1236" stroke-width="1.7" />
</g>
<line x1="321.92" y1="307.30" x2="325.12" y2="307.30" stroke="#4a1426" stroke-width="1.2" />
<line x1="321.92" y1="322.90" x2="325.12" y2="322.90" stroke="#4a1426" stroke-width="1.2" />
<g opacity="0.72">
<line x1="335.65" y1="315.80" x2="335.65" y2="322.90" stroke="#8a1236" stroke-width="1.7" />
</g>
<line x1="334.05" y1="315.80" x2="337.25" y2="315.80" stroke="#4a1426" stroke-width="1.2" />
<line x1="334.05" y1="322.90" x2="337.25" y2="322.90" stroke="#4a1426" stroke-width="1.2" />
<g opacity="0.72">
<line x1="347.77" y1="302.90" x2="347.77" y2="315.80" stroke="#8a1236" stroke-width="1.7" />
</g>
<line x1="346.17" y1="302.90" x2="349.38" y2="302.90" stroke="#4a1426" stroke-width="1.2" />
<line x1="346.17" y1="315.80" x2="349.38" y2="315.80" stroke="#4a1426" stroke-width="1.2" />
<g opacity="0.72">
<line x1="359.90" y1="315.80" x2="359.90" y2="332.00" stroke="#8a1236" stroke-width="1.7" />
</g>
<line x1="358.30" y1="315.80" x2="361.50" y2="315.80" stroke="#4a1426" stroke-width="1.2" />
<line x1="358.30" y1="332.00" x2="361.50" y2="332.00" stroke="#4a1426" stroke-width="1.2" />
<g opacity="0.72">
<line x1="384.15" y1="294.00" x2="384.15" y2="315.80" stroke="#8a1236" stroke-width="1.7" />
</g>
<line x1="382.55" y1="294.00" x2="385.75" y2="294.00" stroke="#4a1426" stroke-width="1.2" />
<line x1="382.55" y1="315.80" x2="385.75" y2="315.80" stroke="#4a1426" stroke-width="1.2" />
<g opacity="0.72">
<line x1="408.40" y1="263.50" x2="408.40" y2="312.50" stroke="#8a1236" stroke-width="1.7" />
</g>
<line x1="406.80" y1="263.50" x2="410.00" y2="263.50" stroke="#4a1426" stroke-width="1.2" />
<line x1="406.80" y1="312.50" x2="410.00" y2="312.50" stroke="#4a1426" stroke-width="1.2" />
<g opacity="0.72">
<line x1="456.90" y1="217.40" x2="456.90" y2="304.00" stroke="#8a1236" stroke-width="1.7" />
</g>
<line x1="455.30" y1="217.40" x2="458.50" y2="217.40" stroke="#4a1426" stroke-width="1.2" />
<line x1="455.30" y1="304.00" x2="458.50" y2="304.00" stroke="#4a1426" stroke-width="1.2" />
<g opacity="0.72">
<line x1="505.40" y1="236.00" x2="505.40" y2="311.30" stroke="#8a1236" stroke-width="1.7" />
</g>
<line x1="503.80" y1="236.00" x2="507.00" y2="236.00" stroke="#4a1426" stroke-width="1.2" />
<line x1="503.80" y1="311.30" x2="507.00" y2="311.30" stroke="#4a1426" stroke-width="1.2" />
<polyline points="309.00,315.80 321.12,316.00 333.25,316.40 345.38,316.80 357.50,317.00 381.75,317.80 406.00,321.80 454.50,315.80 503.00,315.80" fill="none" stroke="#eab57a" stroke-width="1.35" stroke-linejoin="round" />
<polyline points="310.00,315.80 322.12,315.80 334.25,315.80 346.38,315.80 358.50,315.80 382.75,315.80 407.00,313.00 455.50,315.80 504.00,315.80" fill="none" stroke="#5e6575" stroke-width="1.2" stroke-linejoin="round" stroke-dasharray="3.5,2.1"/>
<polyline points="311.40,315.80 323.52,315.80 335.65,315.80 347.77,315.80 359.90,315.80 384.15,315.80 408.40,279.40 456.90,255.70 505.40,311.30" fill="none" stroke="#8a1236" stroke-width="1.45" stroke-linejoin="round" />
<circle cx="309.00" cy="315.80" r="1.2" fill="#eab57a"/>
<circle cx="321.12" cy="316.00" r="1.2" fill="#eab57a"/>
<circle cx="333.25" cy="316.40" r="1.2" fill="#eab57a"/>
<circle cx="345.38" cy="316.80" r="1.2" fill="#eab57a"/>
<circle cx="357.50" cy="317.00" r="1.2" fill="#eab57a"/>
<circle cx="381.75" cy="317.80" r="1.2" fill="#eab57a"/>
<circle cx="406.00" cy="321.80" r="1.2" fill="#eab57a"/>
<circle cx="454.50" cy="315.80" r="1.2" fill="#eab57a"/>
<circle cx="503.00" cy="315.80" r="1.2" fill="#eab57a"/>
<circle cx="310.00" cy="315.80" r="1.2" fill="#5e6575"/>
<circle cx="322.12" cy="315.80" r="1.2" fill="#5e6575"/>
<circle cx="334.25" cy="315.80" r="1.2" fill="#5e6575"/>
<circle cx="346.38" cy="315.80" r="1.2" fill="#5e6575"/>
<circle cx="358.50" cy="315.80" r="1.2" fill="#5e6575"/>
<circle cx="382.75" cy="315.80" r="1.2" fill="#5e6575"/>
<circle cx="407.00" cy="313.00" r="1.2" fill="#5e6575"/>
<circle cx="455.50" cy="315.80" r="1.2" fill="#5e6575"/>
<circle cx="504.00" cy="315.80" r="1.2" fill="#5e6575"/>
<circle cx="311.40" cy="315.80" r="1.8" fill="#8a1236"/>
<circle cx="323.52" cy="315.80" r="1.8" fill="#8a1236"/>
<circle cx="335.65" cy="315.80" r="1.8" fill="#8a1236"/>
<circle cx="347.77" cy="315.80" r="1.8" fill="#8a1236"/>
<circle cx="359.90" cy="315.80" r="1.8" fill="#8a1236"/>
<circle cx="384.15" cy="315.80" r="1.8" fill="#8a1236"/>
<circle cx="408.40" cy="279.40" r="1.8" fill="#8a1236"/>
<circle cx="456.90" cy="255.70" r="1.8" fill="#8a1236"/>
<circle cx="505.40" cy="311.30" r="1.8" fill="#8a1236"/>
<text x="307.70" y="219.50" font-size="7.7" text-anchor="start" font-weight="bold" >Entospletinib + Idelalisib</text>
<line x1="306.80" y1="227.90" x2="322.90" y2="227.90" stroke="#6e1a36" stroke-width="1.5" />
<text x="326.50" y="230.20" font-size="7.7" text-anchor="start" font-weight="normal" >Patients with Pneumonitis (n = 12)</text>
<line x1="307.00" y1="239.40" x2="323.00" y2="239.40" stroke="#4c5566" stroke-width="1.2" stroke-dasharray="1.6,2.2,2.8,2.2,2.8,2.2,2.8"/>
<text x="326.50" y="241.80" font-size="7.7" text-anchor="start" font-weight="normal" >Patients without Pneumonitis (n = 27)</text>
<text x="307.70" y="255.10" font-size="7.7" text-anchor="start" font-weight="bold" >Entospletinib alone*</text>
<line x1="307.20" y1="263.10" x2="322.80" y2="263.10" stroke="#e8bd86" stroke-width="1.3" />
<text x="326.50" y="265.50" font-size="7.7" text-anchor="start" font-weight="normal" >All patients (n = 15)</text>
<text x="208.70" y="380.80" font-size="10.3" text-anchor="start" font-weight="normal" textLength="117.2" lengthAdjust="spacingAndGlyphs">Weeks from start of treatment</text>
<text transform="translate(15.0,266.2) rotate(-90)" font-size="10.1" textLength="168.8" lengthAdjust="spacingAndGlyphs">Median fold change from baseline (Q1, Q3)</text>
</svg></body></html>
